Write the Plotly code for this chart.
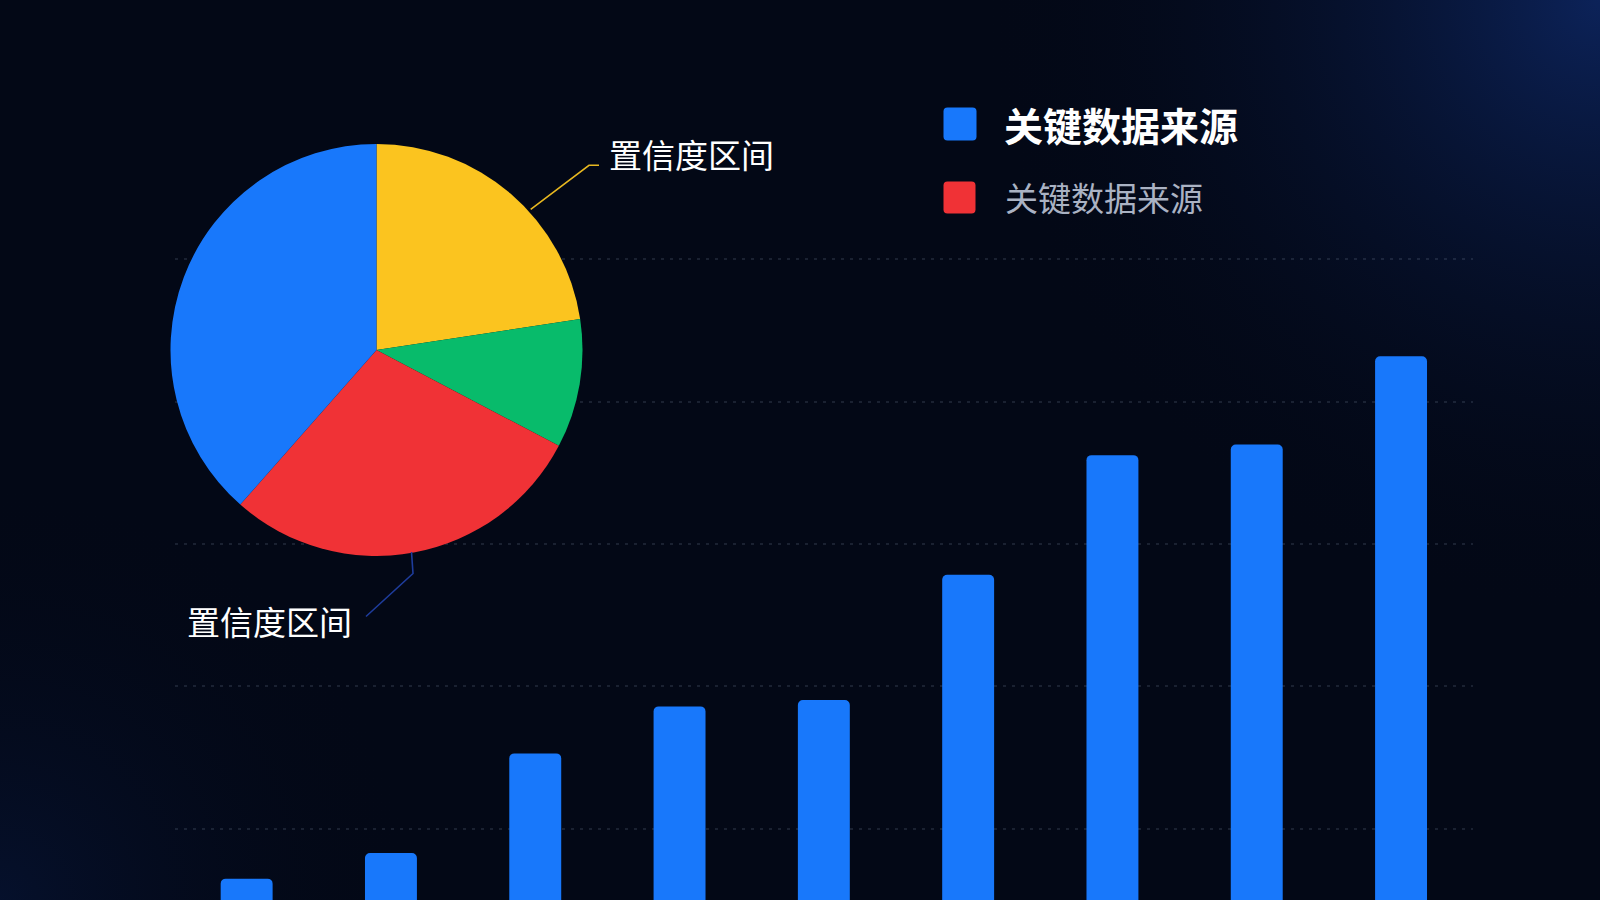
import plotly.graph_objects as go

# ---------------- data ----------------
categories = ["1", "2", "3", "4", "5", "6", "7", "8", "9"]
bar_values = [13.0, 16.6, 30.6, 37.2, 38.1, 55.7, 72.5, 74.0, 86.4]
grid_values = [20, 40, 60, 80, 100]

pie_labels = ["区间A", "区间B", "区间C", "区间D"]
pie_values = [22.6, 10.1, 28.8, 38.5]
pie_colors = ["#fbc41f", "#08bb6b", "#f03236", "#1878fb"]

legend_names = ["关键数据来源", "关键数据来源"]
legend_colors = ["#1878fb", "#f03236"]
callout_text = "置信度区间"

W, H = 1600, 900
FONT = "Noto Sans CJK SC"
BG = "#030816"


def px(x):
    return x / W


def py(y):
    return 1 - y / H


fig = go.Figure()

# ---------- background glows (full-page subplot) ----------
def glow(cx, cy, r, color):
    xs = [px(cx - r), px(cx + r), px(cx + r), px(cx - r), px(cx - r)]
    ys = [py(cy + r), py(cy + r), py(cy - r), py(cy - r), py(cy + r)]
    fig.add_trace(go.Scatter(
        x=xs, y=ys, mode="none", fill="toself",
        fillgradient=dict(type="radial",
                          colorscale=[[0, color], [1, "rgba(3,8,22,0)"]]),
        hoverinfo="skip", showlegend=False, xaxis="x", yaxis="y"))


glow(1600, 0, 620, "rgba(16,46,118,0.7)")
glow(0, 900, 420, "rgba(10,32,84,0.35)")

# ---------- bars ----------
fig.add_trace(go.Bar(
    x=categories, y=bar_values, name=legend_names[0],
    marker=dict(color=legend_colors[0], cornerradius=5, line=dict(width=0)),
    width=0.36, xaxis="x2", yaxis="y2", showlegend=False,
    hoverinfo="y"))

# ---------- pie ----------
cx, cy, r = 376.5, 350, 206
fig.add_trace(go.Pie(
    labels=pie_labels, values=pie_values, sort=False,
    direction="clockwise", rotation=0, textinfo="none",
    marker=dict(colors=pie_colors, line=dict(width=0)),
    domain=dict(x=[px(cx - r), px(cx + r)], y=[py(cy + r), py(cy - r)]),
    showlegend=False))

shapes = []
annotations = []

# pie callout leader lines
def polyline(points, color):
    d = "M " + " L ".join(f"{px(x)},{py(y)}" for x, y in points)
    shapes.append(dict(type="path", xref="paper", yref="paper", path=d,
                       line=dict(color=color, width=1.6)))


polyline([(530.7, 209.3), (589, 165.3), (599, 165.3)], "#e8b820")
polyline([(411.5, 552), (413, 573.5), (366, 616.5)], "#1e3c9c")

annotations.append(dict(text=callout_text, x=px(607), y=py(154), xref="paper",
                        yref="paper", xanchor="left", yanchor="middle",
                        showarrow=False,
                        font=dict(family=FONT, size=33, color="#ffffff")))
annotations.append(dict(text=callout_text, x=px(185), y=py(621), xref="paper",
                        yref="paper", xanchor="left", yanchor="middle",
                        showarrow=False,
                        font=dict(family=FONT, size=33, color="#ffffff")))

# legend (rounded squares + text)
def rounded_square(x0, y0, s, rad, color):
    x1, y1 = x0 + s, y0 + s
    d = (f"M {px(x0 + rad)},{py(y0)} L {px(x1 - rad)},{py(y0)} "
         f"Q {px(x1)},{py(y0)} {px(x1)},{py(y0 + rad)} "
         f"L {px(x1)},{py(y1 - rad)} Q {px(x1)},{py(y1)} {px(x1 - rad)},{py(y1)} "
         f"L {px(x0 + rad)},{py(y1)} Q {px(x0)},{py(y1)} {px(x0)},{py(y1 - rad)} "
         f"L {px(x0)},{py(y0 + rad)} Q {px(x0)},{py(y0)} {px(x0 + rad)},{py(y0)} Z")
    shapes.append(dict(type="path", xref="paper", yref="paper", path=d,
                       fillcolor=color, line=dict(width=0)))


rounded_square(943.5, 107.5, 33, 4, legend_colors[0])
rounded_square(943.5, 181.5, 32, 4, legend_colors[1])
annotations.append(dict(text="<b>" + legend_names[0] + "</b>", x=px(1002),
                        y=py(123.5), xref="paper", yref="paper",
                        xanchor="left", yanchor="middle", showarrow=False,
                        font=dict(family=FONT, size=39, color="#ffffff")))
annotations.append(dict(text=legend_names[1], x=px(1003), y=py(197),
                        xref="paper", yref="paper", xanchor="left",
                        yanchor="middle", showarrow=False,
                        font=dict(family=FONT, size=33, color="#aab2c3")))

# ---------- layout ----------
x_left, x_right = 174.5, 1473.2
ppu = 142.35 / 20.0          # pixels per value unit
y_bottom_val = 10.0
dom_top = 0.78
y_top_val = y_bottom_val + dom_top * H / ppu

fig.update_layout(
    width=W, height=H,
    margin=dict(l=0, r=0, t=0, b=0),
    paper_bgcolor=BG, plot_bgcolor="rgba(0,0,0,0)",
    showlegend=False,
    xaxis=dict(domain=[0, 1], range=[0, 1], visible=False, fixedrange=True),
    yaxis=dict(domain=[0, 1], range=[0, 1], visible=False, fixedrange=True),
    xaxis2=dict(domain=[px(x_left), px(x_right)], range=[-0.5, 8.5],
                type="category", anchor="y2", showticklabels=False,
                showgrid=False, zeroline=False, showline=False, ticks=""),
    yaxis2=dict(domain=[0, dom_top], range=[y_bottom_val, y_top_val],
                anchor="x2", tickvals=grid_values, showticklabels=False,
                showgrid=True, gridcolor="rgba(150,165,190,0.16)",
                griddash="3px,6px", gridwidth=1.5, zeroline=False,
                showline=False, ticks=""),
    shapes=shapes, annotations=annotations,
)

fig.write_html("out.html", config={"displayModeBar": False},
               post_script="document.body.style.margin='0';document.body.style.overflow='hidden';")
